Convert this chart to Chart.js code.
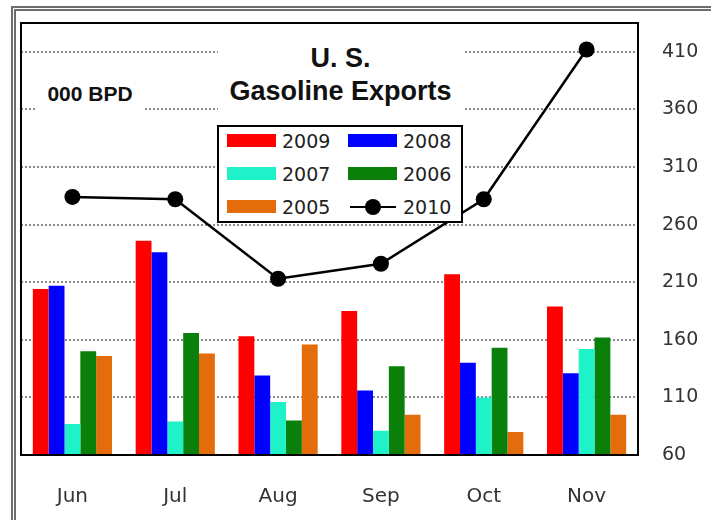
<!DOCTYPE html>
<html>
<head>
<meta charset="utf-8">
<script src="https://cdn.jsdelivr.net/npm/chart.js@4/dist/chart.umd.min.js"></script>
<style>
  body { margin: 0; background: #fff; }
  #wrap { position: relative; width: 711px; height: 520px; overflow: hidden; }
  #frame { position: absolute; left: 11px; top: 6px; width: 720px; height: 540px;
           border-left: 5px double #6e6e6e; border-top: 5px double #6e6e6e; }
  #chart { position: absolute; left: 0; top: 0; }
  .box { position: absolute; background: #fff; font-family: "Liberation Sans", Arial, sans-serif;
         font-weight: bold; color: #111; text-align: center; }
  #title { left: 218px; top: 30px; width: 245px; height: 88px; font-size: 27px; line-height: 33px; padding-top: 12px; box-sizing: border-box; }
  #unit { left: 37px; top: 72px; width: 106px; height: 44px; font-size: 21px; line-height: 44px; }
  #legend { position: absolute; left: 217px; top: 125px; width: 246px; height: 98px; box-sizing: border-box;
            border: 2px solid #000; background: #fff; font-family: "DejaVu Sans", Verdana, sans-serif; font-size: 19px; color: #222; }
  .item { position: absolute; height: 24px; }
  .sw { position: absolute; left: 0; top: 5px; width: 49px; height: 13px; }
  .lbl { position: absolute; left: 55px; top: 0; line-height: 24px; }
</style>
</head>
<body>
<div id="wrap">
  <div id="frame"></div>
  <canvas id="chart" width="711" height="520"></canvas>
  <div class="box" id="unit">000 BPD</div>
  <div class="box" id="title">U. S.<br>Gasoline Exports</div>
  <div id="legend"></div>
</div>
<script>
const months = ["Jun", "Jul", "Aug", "Sep", "Oct", "Nov"];
const y2009 = [204, 246, 163, 185, 217, 189];
const y2008 = [207, 236, 129, 116, 140, 131];
const y2007 = [87, 89, 106, 81, 110, 152];
const y2006 = [150, 166, 90, 137, 153, 162];
const y2005 = [146, 148, 156, 95, 80, 95];
const y2010 = [284, 282, 213, 226, 282, 412];
const yTicks = [60, 110, 160, 210, 260, 310, 360, 410];

const barSet = (label, data, color) => ({
  label, data, backgroundColor: color, order: 1,
  categoryPercentage: 0.77, barPercentage: 1
});

const plotBorder = {
  id: 'plotBorder',
  afterDraw(chart) {
    const a = chart.chartArea, ctx = chart.ctx;
    ctx.save();
    ctx.strokeStyle = '#000';
    ctx.lineWidth = 2;
    ctx.strokeRect(a.left, a.top, a.right - a.left, a.bottom - a.top);
    ctx.restore();
  }
};

const chart = new Chart(document.getElementById("chart"), {
  type: 'bar',
  data: {
    labels: months,
    datasets: [
      barSet("2009", y2009, "#ff0000"),
      barSet("2008", y2008, "#0000ff"),
      barSet("2007", y2007, "#1ff2c8"),
      barSet("2006", y2006, "#0a800a"),
      barSet("2005", y2005, "#e46c0a"),
      {
        type: 'line', label: "2010", data: y2010, order: 0,
        borderColor: "#000", borderWidth: 2.5, backgroundColor: "#000",
        pointRadius: 8, pointBackgroundColor: "#000", pointBorderWidth: 0
      }
    ]
  },
  options: {
    responsive: false,
    animation: false,
    layout: { padding: { left: 21, top: 23, right: 0, bottom: 0 } },
    plugins: { legend: { display: false }, tooltip: { enabled: false } },
    scales: {
      x: {
        grid: { display: false },
        border: { display: false },
        ticks: { color: '#333', padding: 22, font: { family: "DejaVu Sans", size: 20 } },
        afterFit(s) { s.height = 65; s.paddingLeft = 0; s.paddingRight = 0; }
      },
      y: {
        position: 'right',
        min: 60, max: 435,
        grid: { color: '#8a8a8a', lineWidth: 2, drawTicks: false },
        border: { display: false, dash: [2, 2] },
        ticks: { color: '#333', padding: 24, font: { family: "DejaVu Sans", size: 19 } },
        afterBuildTicks(s) { s.ticks = yTicks.map(v => ({ value: v })); },
        afterFit(s) { s.width = 73; s.paddingTop = 0; s.paddingBottom = 0; }
      }
    }
  },
  plugins: [plotBorder]
});

// legend in two columns, built from the chart's datasets
const legend = document.getElementById('legend');
chart.data.datasets.forEach((ds, i) => {
  const col = i % 2, row = Math.floor(i / 2);
  const item = document.createElement('div');
  item.className = 'item';
  item.style.left = (8 + col * 121) + 'px';
  item.style.top = (2 + row * 33) + 'px';
  let mark;
  if (ds.type === 'line') {
    mark = '<div style="position:absolute;left:2px;top:11px;width:46px;height:2px;background:#000"></div>' +
           '<div style="position:absolute;left:17px;top:4px;width:16px;height:16px;border-radius:50%;background:#000"></div>';
  } else {
    mark = '<div class="sw" style="background:' + ds.backgroundColor + '"></div>';
  }
  item.innerHTML = mark + '<span class="lbl">' + ds.label + '</span>';
  legend.appendChild(item);
});
</script>
</body>
</html>
